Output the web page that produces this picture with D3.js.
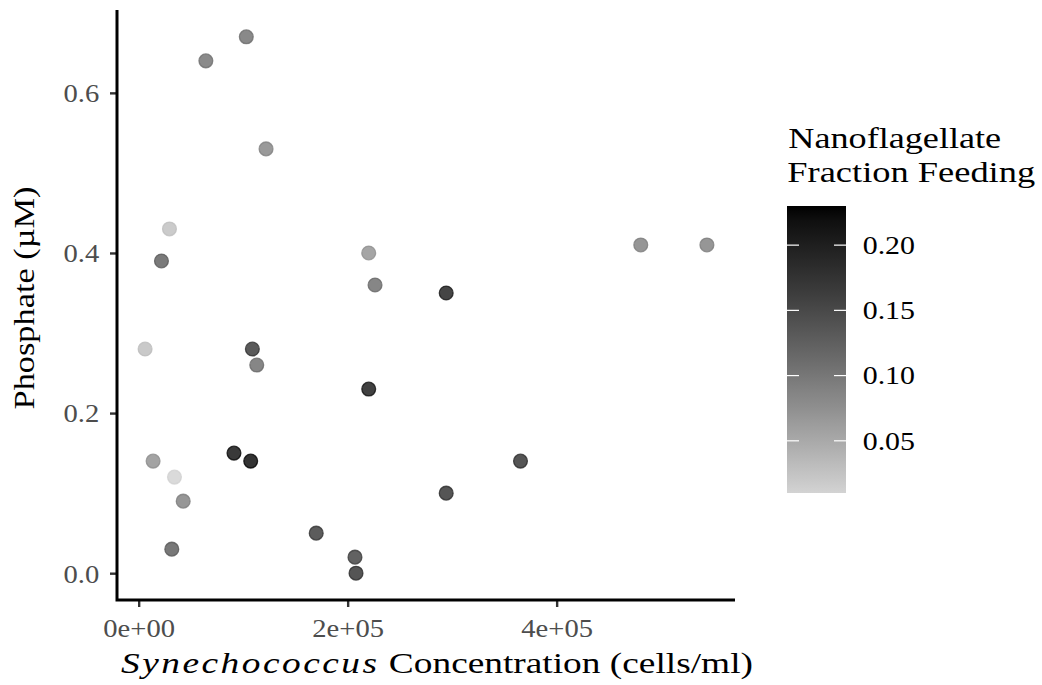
<!DOCTYPE html>
<html>
<head>
<meta charset="utf-8">
<script src="https://cdn.jsdelivr.net/npm/d3@7"></script>
<style>
  body { margin: 0; background: #fff; }
  text { font-family: "Liberation Serif", "Times New Roman", serif; }
</style>
</head>
<body>
<script>
// Synechococcus concentration (cells/ml)
const synConc = [103000, 64300, 121900, 29460, 21800, 220150, 226200, 6140, 108800, 113000,
                 220150, 91200, 107200, 13800, 34260, 42600, 31700, 169900, 207000, 208000,
                 480500, 543800, 294300, 365400, 294300];
// Phosphate (uM)
const phosphate = [0.67, 0.64, 0.53, 0.43, 0.39, 0.40, 0.36, 0.28, 0.28, 0.26,
                   0.23, 0.15, 0.14, 0.14, 0.12, 0.09, 0.03, 0.05, 0.02, 0.00,
                   0.41, 0.41, 0.35, 0.14, 0.10];
// nanoflagellate fraction feeding
const fracFeeding = [0.111, 0.11, 0.09, 0.03, 0.132, 0.076, 0.115, 0.033, 0.177, 0.115,
                     0.216, 0.225, 0.23, 0.078, 0.012, 0.095, 0.135, 0.175, 0.165, 0.185,
                     0.095, 0.095, 0.21, 0.185, 0.185];
const xTicks = [0, 200000, 400000];
const xTickLabels = ["0e+00", "2e+05", "4e+05"];
const yTicks = [0, 0.2, 0.4, 0.6];
const legendTicks = [0.05, 0.10, 0.15, 0.20];

const data = synConc.map((d, i) => ({x: d, y: phosphate[i], f: fracFeeding[i]}));

const width = 1042, height = 685;
const panel = {left: 117, right: 735, top: 10, bottom: 600};
const tickStretch = 1.1;

const svg = d3.select("body").append("svg")
  .attr("width", width)
  .attr("height", height);

// ggplot-style 5% expansion
function expand(ext) {
  const pad = (ext[1] - ext[0]) * 0.05;
  return [ext[0] - pad, ext[1] + pad];
}

// the reference's serif is a bit wider than Liberation Serif: stretch a text to a set width
function fitWidth(sel, target, ax, ay, rotate) {
  const w = sel.node().getBBox().width;
  const sx = target / w;
  sel.attr("x", 0).attr("y", 0)
    .attr("transform", `translate(${ax},${ay})` + (rotate ? ` rotate(${rotate})` : "") + ` scale(${sx},1)`);
}

const x = d3.scaleLinear()
  .domain(expand(d3.extent(synConc)))
  .range([panel.left, panel.right]);

const y = d3.scaleLinear()
  .domain(expand(d3.extent(phosphate)))
  .range([panel.bottom, panel.top]);

const colour = d3.scaleLinear()
  .domain([0.01, 0.23])
  .range(["#d3d3d3", "#000000"])
  .interpolate(d3.interpolateLab)
  .clamp(true);

// points
svg.append("g")
  .selectAll("circle")
  .data(data)
  .join("circle")
    .attr("cx", d => x(d.x))
    .attr("cy", d => y(d.y))
    .attr("r", 6.9)
    .attr("fill", d => colour(d.f))
    .attr("fill-opacity", 0.8)
    .attr("stroke", d => colour(d.f))
    .attr("stroke-opacity", 0.8)
    .attr("stroke-width", 1.3);

// x axis
const xAxis = svg.append("g")
  .attr("transform", `translate(0, ${panel.bottom})`)
  .call(d3.axisBottom(x)
    .tickValues(xTicks)
    .tickFormat((d, i) => xTickLabels[i])
    .tickSize(7)
    .tickPadding(5));

// y axis
const yAxis = svg.append("g")
  .attr("transform", `translate(${panel.left}, 0)`)
  .call(d3.axisLeft(y)
    .tickValues(yTicks)
    .tickFormat(d3.format(".1f"))
    .tickSize(7)
    .tickPadding(6));

[xAxis, yAxis].forEach(g => {
  g.select(".domain").remove();
  g.selectAll(".tick line").attr("stroke", "#333333").attr("stroke-width", 2.4);
  g.selectAll(".tick text")
    .attr("fill", "#4d4d4d")
    .style("font-size", "26px")
    .style("font-family", "'Liberation Serif', serif");
});
xAxis.selectAll(".tick text")
  .attr("y", 37).attr("dy", null)
  .attr("transform", `scale(${tickStretch},1)`);
yAxis.selectAll(".tick text")
  .attr("x", -17.7 / tickStretch).attr("dy", "0.34em")
  .attr("transform", `scale(${tickStretch},1)`);

// axis lines
svg.append("path")
  .attr("d", `M${panel.left},${panel.top}V${panel.bottom}H${panel.right}`)
  .attr("fill", "none")
  .attr("stroke", "#000")
  .attr("stroke-width", 3);

// axis titles
const xTitle = svg.append("text")
  .attr("text-anchor", "middle")
  .style("font-size", "30px");
xTitle.append("tspan")
  .style("font-style", "italic")
  .style("letter-spacing", "2px")
  .text("Synechococcus");
xTitle.append("tspan").text(" Concentration (cells/ml)");
fitWidth(xTitle, 632, 437, 673);

const yTitle = svg.append("text")
  .attr("text-anchor", "middle")
  .style("font-size", "30px")
  .text("Phosphate (\u00b5M)");
fitWidth(yTitle, 223, 33.5, 298, -90);

// legend
const legend = svg.append("g");
const lt1 = legend.append("text")
  .style("font-size", "30px")
  .text("Nanoflagellate");
fitWidth(lt1, 213, 788.3, 148.3);
const lt2 = legend.append("text")
  .style("font-size", "30px")
  .text("Fraction Feeding");
fitWidth(lt2, 248, 787.3, 181.7);

const barTop = 206, barBottom = 493, barLeft = 787, barW = 59;
const ls = d3.scaleLinear().domain([0.01, 0.23]).range([barBottom, barTop]);

const defs = svg.append("defs");
const grad = defs.append("linearGradient")
  .attr("id", "fgrad")
  .attr("x1", 0).attr("y1", 1).attr("x2", 0).attr("y2", 0);
d3.range(0, 1.0001, 0.05).forEach(t => {
  grad.append("stop")
    .attr("offset", t)
    .attr("stop-color", colour(0.01 + t * 0.22));
});

legend.append("rect")
  .attr("x", barLeft)
  .attr("y", barTop)
  .attr("width", barW)
  .attr("height", barBottom - barTop)
  .attr("fill", "url(#fgrad)");

const lt = legend.selectAll("g.lt")
  .data(legendTicks)
  .join("g")
    .attr("class", "lt")
    .attr("transform", d => `translate(0, ${ls(d)})`);
lt.append("line")
  .attr("x1", barLeft).attr("x2", barLeft + 12)
  .attr("stroke", "#fff").attr("stroke-width", 1.2);
lt.append("line")
  .attr("x1", barLeft + barW - 12).attr("x2", barLeft + barW)
  .attr("stroke", "#fff").attr("stroke-width", 1.2);
lt.append("text")
  .attr("dy", "0.34em")
  .attr("transform", "translate(862.7,0) scale(1.15,1)")
  .style("font-size", "26px")
  .text(d => d3.format(".2f")(d));
</script>
</body>
</html>
